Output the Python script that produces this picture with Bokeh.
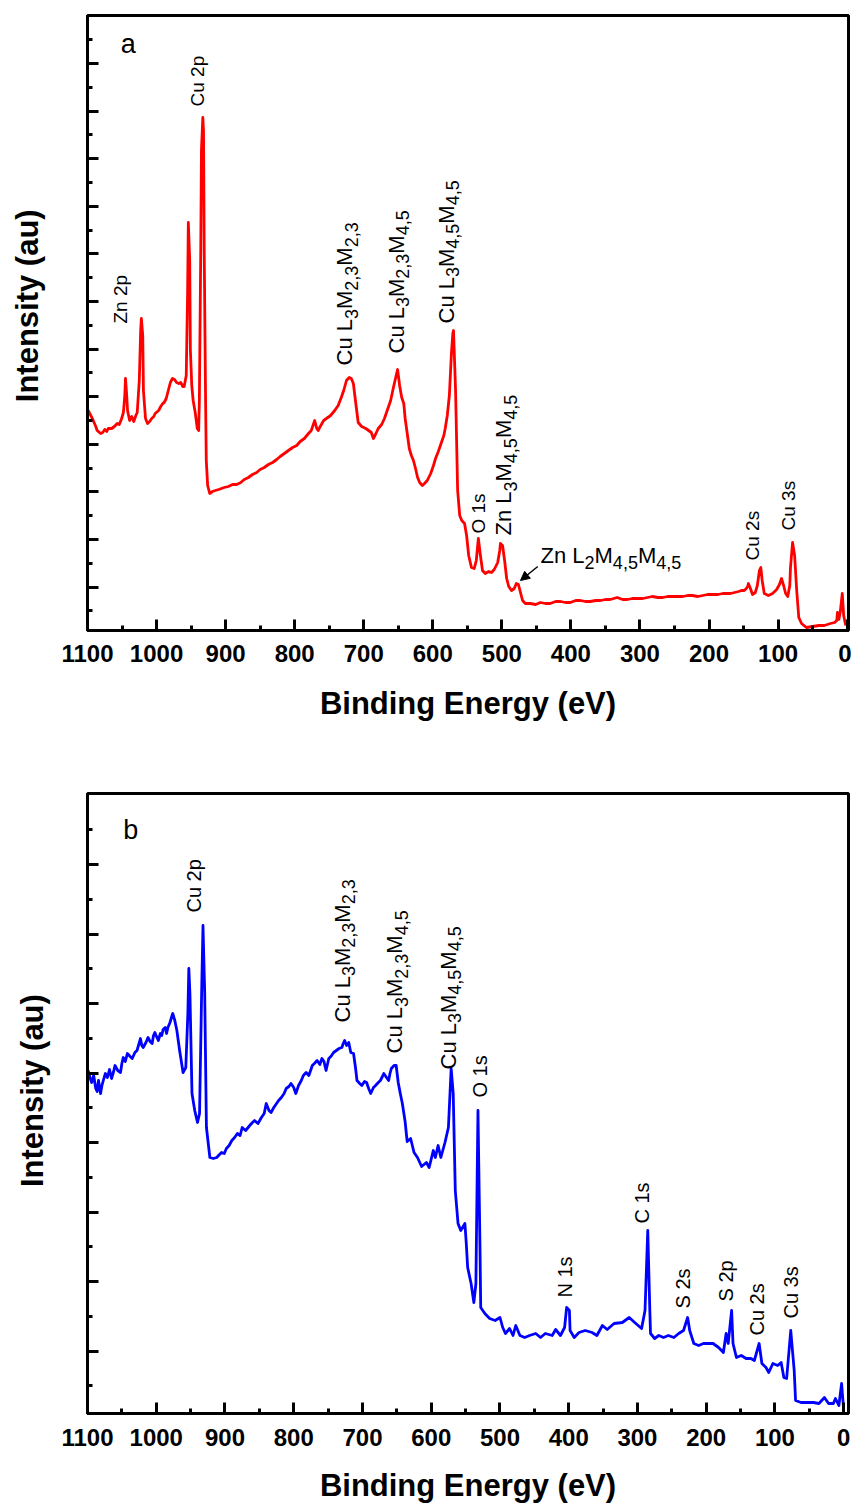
import re
from bokeh.plotting import figure
from bokeh.layouts import column
from bokeh.models import (Range1d, FixedTicker, Arrow, NormalHead, ColumnDataSource,
                          CustomJSTickFormatter)
from bokeh.embed import file_html
from bokeh.resources import INLINE
from bokeh.core.properties import value

FONT = "Liberation Sans"

# ---------------- data: panel a (red) ----------------
energy_a = [1099, 1096, 1093, 1088, 1086, 1081, 1078, 1075, 1072, 1070, 1065, 1061, 1057, 1054, 1051,
            1048, 1046, 1045, 1043.5, 1042, 1039, 1036, 1033, 1030, 1028, 1025, 1023, 1022, 1020, 1019,
            1016, 1013, 1010, 1007, 1004, 1002, 997, 994, 991, 989, 986, 983, 980, 977, 974, 971, 968,
            965, 962, 960, 957, 955, 954, 952, 951, 949, 947, 944, 941, 939, 938, 936, 935, 933, 932,
            931, 929, 928, 926, 923, 919, 915, 910, 906, 902, 896, 890, 884, 878, 873, 867, 861, 855,
            850, 844, 838, 832, 826, 821, 815, 809, 803, 797, 792, 786, 780, 776, 771, 768, 766, 763,
            758, 754, 748, 742, 737, 732, 729, 725, 721, 718, 715, 712, 708, 703, 697, 693, 689, 686,
            683, 679, 674, 670, 666, 661, 657, 654, 651, 648, 645, 642, 640, 637, 634, 631, 628, 625,
            622, 619, 615, 612, 608, 603, 599, 596, 592, 589, 584, 582, 579, 576, 573, 571, 570, 569,
            567, 564, 561, 558, 554, 551, 548, 544, 540, 537, 534, 531, 528, 524, 519, 515, 511, 506,
            503, 502, 499, 496, 493, 490, 486, 482, 479, 476, 473, 470, 466, 459, 451, 444, 437, 430,
            422, 415, 408, 401, 393, 386, 379, 372, 364, 357, 350, 343, 338, 333, 329, 325, 318, 311,
            303, 296, 289, 282, 274, 267, 260, 253, 245, 238, 231, 224, 216, 209, 202, 195, 187, 180,
            174, 169, 163, 157, 153, 149, 146, 144, 143, 140, 137, 133, 130, 127, 125, 123, 120, 117,
            114, 108, 102, 98, 95, 92, 89, 86, 83, 82, 79, 76, 73, 70, 66, 59, 50, 41, 33, 24, 18, 15,
            14, 12, 10, 7, 5, 2]
intensity_a = [220, 216, 212, 204, 200, 197, 198, 201, 199, 202, 202, 204, 207, 206, 211,
               218, 235, 252, 238, 220, 210, 214, 209, 215, 218, 250, 300, 312, 295, 240,
               212, 207, 209, 212, 214, 217, 220, 224, 227, 228, 232, 240, 248, 252, 251, 248, 247,
               248, 244, 244, 255, 340, 408, 370, 280, 245, 230, 218, 202, 200, 230, 380, 480, 513, 500,
               380, 230, 170, 145, 137, 139, 140, 141, 142, 143, 144, 146, 146, 148, 151, 153, 156, 158,
               161, 163, 166, 168, 171, 174, 177, 180, 183, 185, 189, 192, 197, 200, 210, 202, 200, 204,
               210, 212, 215, 220, 225, 234, 240, 250, 253, 252, 247, 230, 208, 204, 202, 200, 198, 192,
               196, 202, 206, 212, 220, 230, 243, 252, 261, 245, 233, 227, 212, 197, 182, 175, 170, 162,
               153, 148, 145, 147, 150, 157, 165, 172, 179, 185, 195, 202, 215, 235, 277, 297, 300, 280,
               240, 140, 115, 110, 107, 95, 75, 63, 62, 70, 92, 75, 60, 57, 59, 58, 61, 68,
               80, 87, 85, 70, 52, 44, 40, 42, 47, 46, 38, 30, 27, 27, 26, 28, 27, 27,
               29, 29, 28, 28, 30, 30, 29, 29, 30, 30, 31, 31, 32, 33, 32, 31, 31, 32,
               32, 32, 33, 34, 33, 33, 34, 34, 34, 34, 35, 35, 34, 35, 36, 36, 36, 37,
               37, 37, 38, 39, 40, 40, 42, 44, 47, 42, 36, 38, 45, 60, 63, 50, 37, 36,
               35, 37, 41, 46, 52, 45, 37, 34, 45, 63, 88, 75, 40, 13, 7, 3, 4, 5, 5, 7, 8, 10,
               18, 11, 18, 37, 15, 5]

# ---------------- data: panel b (blue) ----------------
energy_b = [1099, 1096, 1094, 1091, 1088, 1086, 1084, 1081, 1079, 1077, 1074, 1071, 1068, 1065, 1062,
            1060, 1056, 1052, 1050, 1048, 1045, 1042, 1038, 1035, 1031, 1028, 1025, 1023, 1021, 1019,
            1015, 1012, 1009, 1006, 1004, 1002, 999, 997, 994, 992, 990, 987, 985, 983, 980, 977, 976,
            973, 970, 966, 961, 957, 954, 952.6, 951, 948, 944, 940, 937, 934, 932, 929.5, 927, 922,
            917, 912, 908, 905, 901, 898, 894, 890, 886, 882, 878, 875, 870, 864, 860, 857, 852, 847,
            843, 840, 836, 833, 829, 825, 822, 818, 814, 811, 807, 804, 800, 797, 793, 789, 786, 782,
            778, 773, 770, 766, 762, 759, 756, 753, 749, 746, 742, 738, 734, 730, 728, 726, 723, 720,
            717, 713, 710, 708, 704, 701, 697, 694, 691, 688, 684, 681, 677, 674, 671, 669, 665, 662,
            660, 658, 654, 651, 648, 645, 642, 638, 635, 630, 625, 620, 614, 607, 603, 597, 594, 590,
            586, 580, 575, 571, 568, 565, 561, 557, 551, 549, 547, 542, 538, 535, 532, 529, 528, 522,
            515, 507, 500, 496, 492, 486, 481, 477, 471, 464, 457, 448, 441, 434, 424, 419, 412, 406,
            403, 399, 398, 392, 385, 376, 366, 359, 351, 344, 334, 322, 312, 304, 294, 289, 285, 282,
            281, 275, 269, 262, 255, 247, 240, 233, 227, 224, 218, 211, 204, 197, 190, 182, 175, 171,
            168, 163, 161, 156, 149, 142, 135, 130, 123, 119, 113, 109, 103, 96, 91, 87, 83, 77, 72,
            70, 62, 52, 44, 36, 28, 22, 15, 12, 7, 3, 0]
intensity_b = [343, 335, 331, 338, 325, 322, 333, 320, 328, 333, 340, 336, 344, 335, 342,
               348, 343, 341, 350, 356, 352, 360, 357, 355, 361, 363, 370, 375, 368, 366,
               371, 376, 372, 370, 378, 381, 376, 373, 380, 378, 384, 386, 380, 386, 391, 398, 400,
               393, 383, 363, 341, 346, 400, 445, 420, 320, 303, 291, 300, 420, 488, 420, 286, 256,
               255, 256, 259, 261, 260, 265, 268, 273, 276, 280, 278, 286, 283, 288, 291, 293, 290, 296,
               300, 310, 303, 301, 306, 310, 313, 316, 320, 325, 327, 330, 326, 320, 328, 333, 338, 341,
               338, 348, 350, 353, 349, 355, 352, 343, 355, 357, 361, 363, 365, 366, 370, 373, 368, 371,
               361, 360, 345, 333, 330, 328, 332, 331, 325, 320, 326, 328, 331, 333, 337, 340, 336, 333,
               340, 345, 348, 348, 331, 320, 310, 292, 272, 275, 261, 256, 247, 251, 246, 263, 256, 268,
               256, 271, 286, 345, 320, 223, 190, 183, 190, 170, 146, 130, 111, 130, 303, 163, 106, 100,
               95, 93, 96, 86, 80, 85, 78, 88, 78, 76, 78, 80, 76, 80, 78, 84, 78, 86,
               106, 103, 83, 76, 81, 83, 81, 78, 88, 84, 90, 91, 96, 91, 85, 103, 183, 103,
               80, 75, 78, 76, 78, 76, 80, 83, 96, 83, 70, 68, 70, 70, 70, 66, 61, 80,
               70, 103, 70, 56, 58, 55, 55, 53, 70, 50, 46, 41, 50, 48, 51, 36, 35, 83, 43,
               13, 11, 11, 11, 10, 16, 10, 10, 15, 8, 30, 3]

# ---------------- ticks ----------------
x_major = list(range(0, 1101, 100))
x_minor = list(range(50, 1100, 100))
ya_major = [43, 91, 139, 186, 234, 281, 329, 377, 424, 472, 519, 567]
ya_minor = [20, 67, 115, 162, 210, 258, 305, 353, 400, 448, 496, 543, 591]
yb_major = [62.5, 132, 201.5, 271, 340.5, 410, 479.5, 549]
yb_minor = [28, 97, 167, 236, 306, 375, 445, 514, 584]

# ---------------- peak annotations: (label, energy, intensity) ----------------
peaks_a_small = [("Zn 2p", 1042, 307), ("Cu 2p", 931, 524), ("O 1s", 524, 97),
                 ("Cu 2s", 128, 70), ("Cu 3s", 75, 100)]
peaks_a_auger = [("Cu L_3M_{2,3}M_{2,3}", 716, 265), ("Cu L_3M_{2,3}M_{4,5}", 642, 277),
                 ("Cu L_3M_{4,5}M_{4,5}", 569, 307), ("Zn L_3M_{4,5}M_{4,5}", 486, 95)]
peak_a_horizontal = ("Zn L_2M_{4,5}M_{4,5}", 444, 67)
arrow_a = (448, 64, 473, 50)   # tail energy, tail intensity, tip energy, tip intensity
peaks_b_small = [("Cu 2p", 935, 501), ("O 1s", 519, 316), ("N 1s", 395, 116), ("C 1s", 283, 190),
                 ("S 2s", 224, 105), ("S 2p", 161, 112), ("Cu 2s", 116, 78), ("Cu 3s", 67, 95)]
peaks_b_auger = [("Cu L_3M_{2,3}M_{2,3}", 718, 391), ("Cu L_3M_{2,3}M_{4,5}", 642, 360),
                 ("Cu L_3M_{4,5}M_{4,5}", 564, 344)]
panel_letters = [("a", 1052, 577), ("b", 1048, 574)]

# Arial / Liberation Sans advance widths (per em)
WIDTHS = {' ': .278, ',': .278, 'C': .722, 'u': .556, 'L': .556, 'M': .833, 'Z': .611, 'n': .556,
          'p': .556, 'O': .778, 's': .5, 'N': .722, 'S': .667, 'a': .556, 'b': .556}
BASE_FIX = 0.35   # em: moves the rendered alphabetic baseline onto the anchor


def text_width(t, size):
    return sum(WIDTHS.get(c, .556) for c in t) * size


def parse(label):
    segs = []
    for m in re.finditer(r"_\{([^}]*)\}|_(.)|([^_]+)", label):
        if m.group(1) is not None:
            segs.append((m.group(1), True))
        elif m.group(2) is not None:
            segs.append((m.group(2), True))
        else:
            segs.append((m.group(3), False))
    return segs


def add_labels(p, items, main, sub, vertical=True, shift=5):
    d = dict(x=[], y=[], t=[], size=[], xo=[], yo=[], ang=[])
    for label, e, i in items:
        adv = 0.0
        for t, is_sub in parse(label):
            sz = sub if is_sub else main
            down = (shift if is_sub else 0) - BASE_FIX * sz
            d["x"].append(e)
            d["y"].append(i)
            d["t"].append(t)
            d["size"].append(f"{sz}px")
            if vertical:
                d["xo"].append(down)
                d["yo"].append(-adv)
                d["ang"].append(1.5707963)
            else:
                d["xo"].append(adv)
                d["yo"].append(down)
                d["ang"].append(0.0)
            adv += text_width(t, sz)
    src = ColumnDataSource(d)
    p.text(x="x", y="y", text="t", source=src, text_font=value(FONT), text_font_size="size",
           x_offset="xo", y_offset="yo", angle="ang", text_align="left",
           text_baseline="alphabetic", text_color="black")


def make_fig(height, bl, bt, bb, x_end, y_top, ymaj, ymin, lab_stand, title_stand,
             ytitle, ytitle_stand):
    p = figure(width=851, height=height, x_range=Range1d(1100, x_end), y_range=Range1d(0, y_top),
               output_backend="svg", toolbar_location=None,
               min_border_left=bl, min_border_right=3, min_border_top=bt, min_border_bottom=bb)
    p.xgrid.visible = False
    p.ygrid.visible = False
    p.outline_line_color = "black"
    p.outline_line_width = 3
    p.outline_line_alpha = 1
    p.background_fill_color = "white"
    p.border_fill_color = "white"
    p.xaxis.ticker = FixedTicker(ticks=x_major, minor_ticks=x_minor)
    p.yaxis.ticker = FixedTicker(ticks=ymaj, minor_ticks=ymin)
    for ax in (p.xaxis, p.yaxis):
        ax.axis_line_width = 3
        ax.axis_line_color = "black"
        ax.major_tick_line_width = 3
        ax.minor_tick_line_width = 3
        ax.major_tick_line_color = "black"
        ax.minor_tick_line_color = "black"
        ax.major_tick_in = 11
        ax.major_tick_out = 0
        ax.minor_tick_in = 5
        ax.minor_tick_out = 0
        ax.axis_label_text_font = FONT
        ax.axis_label_text_font_style = "bold"
        ax.axis_label_text_font_size = "31px"
        ax.axis_label_text_color = "black"
    p.xaxis.major_label_text_font = FONT
    p.xaxis.major_label_text_font_style = "bold"
    p.xaxis.major_label_text_font_size = "24px"
    p.xaxis.major_label_text_color = "black"
    p.xaxis.major_label_standoff = lab_stand
    p.xaxis.axis_label = "Binding Energy (eV)"
    p.xaxis.axis_label_standoff = title_stand
    p.yaxis.formatter = CustomJSTickFormatter(code="return ''")
    p.yaxis.major_label_standoff = 0
    p.yaxis.axis_label = ytitle
    p.yaxis.axis_label_standoff = ytitle_stand
    return p


# the y title sits a little above the frame centre in the reference: pad its start
ytitle_a = "\u00a0" * 4 + "Intensity (au)"
ytitle_b = "\u00a0" * 3 + "Intensity (au)"

pa = make_fig(730, 87, 15, 100, -2, 615, ya_major, ya_minor, 14, 21, ytitle_a, 43)
pa.line(energy_a, intensity_a, line_color="#ff0000", line_width=2.8, line_join="round")
add_labels(pa, peaks_a_small, 19, 19)
add_labels(pa, peaks_a_auger, 22, 18)
add_labels(pa, [peak_a_horizontal], 22, 18, vertical=False)
pa.add_layout(Arrow(end=NormalHead(size=9, fill_color="black", line_color="black"),
                    x_start=arrow_a[0], y_start=arrow_a[1], x_end=arrow_a[2], y_end=arrow_a[3],
                    line_width=1.5, line_color="black"))
add_labels(pa, [panel_letters[0]], 27, 27, vertical=False)

pb = make_fig(776, 82, 63, 93, -7, 620, yb_major, yb_minor, 15, 19, ytitle_b, 38)
pb.line(energy_b, intensity_b, line_color="#0000ff", line_width=2.8, line_join="round")
add_labels(pb, peaks_b_small, 20, 20)
add_labels(pb, peaks_b_auger, 22, 18)
add_labels(pb, [panel_letters[1]], 27, 27, vertical=False)

layout = column(pa, pb, spacing=0)
open("out.html", "w").write(file_html(layout, INLINE))
